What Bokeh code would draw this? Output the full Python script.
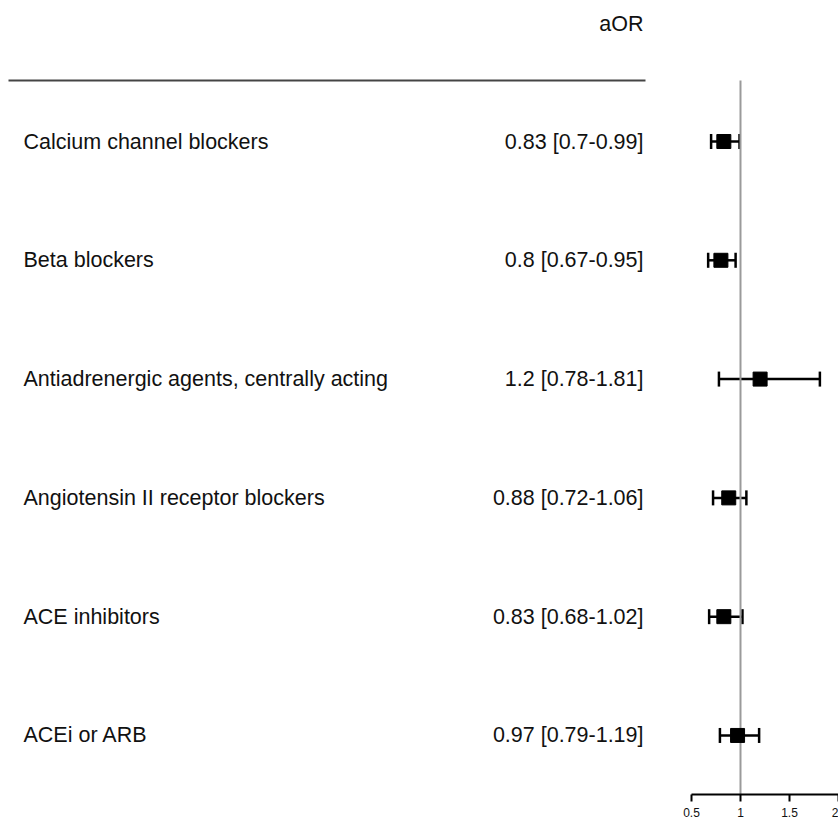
from bokeh.plotting import figure
from bokeh.models import (ColumnDataSource, Range1d, LinearAxis, FixedTicker,
                          Whisker, TeeHead)
from bokeh.core.properties import value
from bokeh.embed import file_html
from bokeh.resources import INLINE

# ---- data ----
drugs = ["Calcium channel blockers", "Beta blockers",
         "Antiadrenergic agents, centrally acting",
         "Angiotensin II receptor blockers", "ACE inhibitors", "ACEi or ARB"]
aor = [0.83, 0.8, 1.2, 0.88, 0.83, 0.97]
ci_low = [0.7, 0.67, 0.78, 0.72, 0.68, 0.79]
ci_high = [0.99, 0.95, 1.81, 1.06, 1.02, 1.19]
x_ticks = [0.5, 1, 1.5, 2]
null_value = 1.0
header = "aOR"

rows = list(range(len(drugs), 0, -1))  # top row first
labels_ci = [f"{a:g} [{l:g}-{h:g}]" for a, l, h in zip(aor, ci_low, ci_high)]

src = ColumnDataSource(dict(y=rows, drug=drugs, aor=aor, lo=ci_low, hi=ci_high,
                            ci=labels_ci))

FONT = value("Liberation Sans")
W, H = 838, 819
header_y = 6.514
header_text_y = 6.985

p = figure(width=W, height=H, output_backend="svg", toolbar_location=None,
           x_axis_type=None, y_axis_type=None,
           x_range=Range1d(0, 838), y_range=Range1d(0.503, 7.187),
           min_border_left=0, min_border_right=0, min_border_top=0,
           min_border_bottom=25)
p.extra_x_ranges = {"or": Range1d(-6.551, 2.0)}
p.outline_line_color = None
p.xgrid.visible = False
p.ygrid.visible = False
p.background_fill_color = "white"
p.border_fill_color = "white"

# table text
p.text(x=23, y="y", text="drug", source=src, text_font=FONT,
       text_font_size="21.5px", text_color="#111111",
       text_align="left", text_baseline="middle")
p.text(x=643, y="y", text="ci", source=src, text_font=FONT,
       text_font_size="21.5px", text_color="#111111",
       text_align="right", text_baseline="middle")
p.text(x=[643], y=[header_text_y], text=[header], text_font=FONT,
       text_font_size="21.5px", text_color="#111111",
       text_align="right", text_baseline="middle")

# header rule
p.segment(x0=[8], x1=[645], y0=[header_y], y1=[header_y],
          line_color="#444444", line_width=2)

# null reference line
p.segment(x0=[null_value], x1=[null_value], y0=[0.503], y1=[header_y],
          line_color="#9a9a9a", line_width=2, x_range_name="or")

# confidence intervals
wh = Whisker(source=src, base="y", lower="lo", upper="hi", dimension="width",
             x_range_name="or", line_color="black", line_width=2.5,
             lower_head=TeeHead(size=15, line_width=2.5, line_color="black"),
             upper_head=TeeHead(size=15, line_width=2.5, line_color="black"))
p.add_layout(wh)

# point estimates
p.scatter(x="aor", y="y", source=src, marker="square", size=14,
          fill_color="black", line_color="black", x_range_name="or")

# OR axis
ax = LinearAxis(x_range_name="or", ticker=FixedTicker(ticks=x_ticks),
                bounds=(0.5, 2.0))
ax.axis_line_width = 2
ax.axis_line_color = "black"
ax.major_tick_line_width = 2
ax.major_tick_line_color = "black"
ax.major_tick_out = 7
ax.major_tick_in = 0
ax.minor_tick_line_color = None
ax.major_label_standoff = 6
ax.major_label_text_font = "Liberation Sans"
ax.major_label_text_font_size = "12px"
ax.major_label_text_color = "#111111"
p.add_layout(ax, "below")

open("out.html", "w").write(file_html(p, INLINE))
